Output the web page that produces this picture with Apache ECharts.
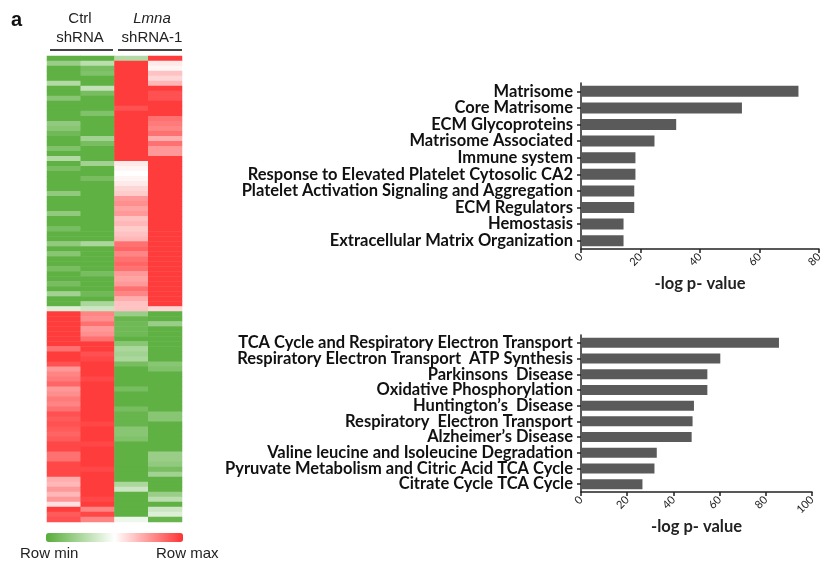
<!DOCTYPE html>
<html><head><meta charset="utf-8">
<script src="https://cdn.jsdelivr.net/npm/echarts@6/dist/echarts.min.js"></script>
<style>html,body{margin:0;padding:0;background:#fff}#c{width:825px;height:561px}</style>
</head><body><div id="c"></div>
<script>
// Heatmap columns (row-normalised values: -1 = row min (green), +1 = row max (red))
const heatCols = ['Ctrl shRNA 1','Ctrl shRNA 2','Lmna shRNA-1 1','Lmna shRNA-1 2'];
const ctrl1 = [
 -0.95,-0.6,-0.95,-0.95,-0.95,-0.45,-0.95,-0.95,-0.7,-0.95,
 -0.95,-0.95,-0.95,-0.65,-0.7,-0.85,-0.95,-0.95,-0.75,-0.95,
 -0.45,-0.95,-0.8,-0.95,-0.95,-0.95,-0.95,-0.65,-0.95,-0.95,
 -0.95,-0.65,-0.95,-0.95,-0.8,-0.95,-0.95,-0.65,-0.95,-0.7,
 -0.95,-0.95,-0.8,-0.95,-0.95,-0.8,-0.95,-0.55,-0.95,-0.95,
 -0.2,0.95,0.95,0.95,0.95,0.95,0.95,0.95,0.7,0.95,
 0.95,0.85,0.5,0.6,0.65,0.75,0.5,0.55,0.65,0.6,
 0.7,0.85,0.8,0.85,0.8,0.75,0.8,0.9,0.9,0.7,
 0.7,0.9,0.9,0.9,0.4,0.35,0.5,0.35,0.5,0.15,
 0.95,0.8,0.85
];
const ctrl2 = [
 -0.95,-0.4,-0.8,-0.75,-0.95,-0.95,-0.35,-0.8,-0.95,-0.95,
 -0.95,-0.75,-0.95,-0.95,-0.95,-0.95,-0.55,-0.8,-0.95,-0.95,
 -0.95,-0.55,-0.95,-0.95,-0.8,-0.95,-0.95,-0.95,-0.95,-0.95,
 -0.95,-0.95,-0.95,-0.95,-0.95,-0.95,-0.95,-0.5,-0.95,-0.95,
 -0.95,-0.95,-0.95,-0.8,-0.95,-0.95,-0.95,-0.85,-0.95,-0.5,
 -0.3,0.6,0.55,0.7,0.5,0.55,0.7,0.95,0.95,0.85,
 0.9,0.95,0.95,0.95,0.9,0.95,0.95,0.95,0.95,0.95,
 0.95,0.95,0.95,0.9,0.95,0.95,0.95,0.9,0.95,0.95,
 0.95,0.95,0.9,0.95,0.95,0.95,0.95,0.95,0.9,0.95,
 0.6,0.9,0.6
];
const lmna1 = [
 -0.45,0.95,0.95,0.95,0.95,0.95,0.95,0.95,0.95,0.95,
 0.85,0.95,0.95,0.95,0.95,0.95,0.95,0.95,0.95,0.95,
 0.95,0.1,0.05,0.0,0.05,0.1,0.2,0.25,0.5,0.55,
 0.45,0.5,0.3,0.35,0.25,0.3,0.35,0.7,0.75,0.6,
 0.7,0.75,0.7,0.5,0.45,0.5,0.7,0.6,0.4,0.3,
 0.3,-0.6,-0.9,-0.85,-0.85,-0.85,-0.95,-0.7,-0.5,-0.55,
 -0.5,-0.8,-0.95,-0.95,-0.95,-0.95,-0.8,-0.95,-0.95,-0.95,
 -0.8,-0.9,-0.9,-0.9,-0.7,-0.7,-0.75,-0.95,-0.95,-0.95,
 -0.95,-0.95,-0.95,-0.95,-0.95,-0.5,-0.3,-0.95,-0.95,-0.95,
 -0.95,-0.95,-0.1
];
const lmna2 = [
 0.95,0.1,0.05,0.3,0.2,0.35,0.95,0.85,0.85,0.95,
 0.95,0.95,0.7,0.65,0.6,0.7,0.4,0.7,0.5,0.5,
 0.95,0.95,0.95,0.95,0.95,0.95,0.95,0.95,0.95,0.95,
 0.95,0.95,0.95,0.95,0.95,0.95,0.95,0.95,0.95,0.95,
 0.95,0.95,0.95,0.95,0.95,0.95,0.95,0.95,0.95,0.95,
 0.2,-0.95,-0.95,-0.6,-0.95,-0.95,-0.95,-0.95,-0.95,-0.95,
 -0.95,-0.7,-0.75,-0.95,-0.95,-0.95,-0.95,-0.95,-0.95,-0.95,
 -0.95,-0.7,-0.7,-0.95,-0.95,-0.95,-0.95,-0.95,-0.95,-0.6,
 -0.6,-0.65,-0.8,-0.55,-0.95,-0.95,-0.95,-0.6,-0.4,-0.95,
 -0.3,-0.2,-0.9
];

// Enrichment bar charts
const topCats = ['Matrisome','Core Matrisome','ECM Glycoproteins','Matrisome Associated','Immune system',
 'Response to Elevated Platelet Cytosolic CA2','Platelet Activation Signaling and Aggregation','ECM Regulators',
 'Hemostasis','Extracellular Matrix Organization'];
const topVals = [73.1,54.1,32.0,24.7,18.3,18.3,17.9,17.9,14.3,14.3];
const botCats = ['TCA Cycle and Respiratory Electron Transport','Respiratory Electron Transport  ATP Synthesis',
 'Parkinsons  Disease','Oxidative Phosphorylation','Huntington\u2019s  Disease','Respiratory  Electron Transport',
 'Alzheimer\u2019s Disease','Valine leucine and Isoleucine Degradation','Pyruvate Metabolism and Citric Acid TCA Cycle',
 'Citrate Cycle TCA Cycle'];
const botVals = [85.7,60.3,54.7,54.7,48.9,48.3,47.9,32.8,31.8,26.6];
const topTicks = {min:0,max:80,interval:20};
const botTicks = {min:0,max:100,interval:20};

const cols = [ctrl1, ctrl2, lmna1, lmna2];
const nRows = ctrl1.length;
const rowNames = Array.from({length:nRows},(_,i)=>'g'+i);
const heatData = [];
cols.forEach((arr,ci)=>arr.forEach((v,ri)=>heatData.push([ci,ri,v])));

const GREEN='#56ad38', RED='#ff3232';
const labelFont = {fontFamily:'Lato', fontWeight:'bold', fontSize:16.5, color:'#111'};
const axisBlack = {lineStyle:{color:'#222',width:1.5}};

function barAxes(cats, ticks){
  return {
    x:{type:'value',min:ticks.min,max:ticks.max,interval:ticks.interval,
      axisLine:{show:true,...axisBlack},axisTick:{show:true,length:4,lineStyle:{color:'#222',width:1.5}},
      splitLine:{show:false},
      axisLabel:{rotate:45,fontSize:11,fontFamily:'Lato',color:'#222',margin:6},
      name:'-log p- value',nameLocation:'middle',nameGap:26,
      nameTextStyle:{fontFamily:'Lato',fontWeight:'bold',fontSize:16.5,color:'#222'}},
    y:{type:'category',data:cats,inverse:true,
      axisLine:{show:true,...axisBlack},axisTick:{show:true,alignWithLabel:true,length:4,lineStyle:{color:'#222',width:1.5}},
      axisLabel:{...labelFont,margin:8,interval:0}}
  };
}
const ta = barAxes(topCats, topTicks), ba = barAxes(botCats, botTicks);

const chart = echarts.init(document.getElementById('c'),null,{renderer:'canvas'});
chart.setOption({
  animation:false,
  grid:[
    {left:47,top:56,width:135,height:466},
    {left:581,right:6,top:83,height:166},
    {left:581,right:13,top:335,height:157}
  ],
  xAxis:[
    {type:'category',data:heatCols,gridIndex:0,show:false},
    {...ta.x,gridIndex:1},
    {...ba.x,gridIndex:2}
  ],
  yAxis:[
    {type:'category',data:rowNames,inverse:true,gridIndex:0,show:false},
    {...ta.y,gridIndex:1},
    {...ba.y,gridIndex:2}
  ],
  visualMap:{type:'continuous',min:-1,max:1,seriesIndex:0,orient:'horizontal',
    left:46,top:533,itemWidth:9,itemHeight:137,padding:0,calculable:false,
    showLabel:false,text:null,
    inRange:{color:[GREEN,'#ffffff',RED]}},
  series:[
    {type:'heatmap',xAxisIndex:0,yAxisIndex:0,data:heatData,itemStyle:{borderWidth:0},emphasis:{disabled:true}},
    {type:'bar',xAxisIndex:1,yAxisIndex:1,data:topVals,barWidth:11,itemStyle:{color:'#5a5a5a'}},
    {type:'bar',xAxisIndex:2,yAxisIndex:2,data:botVals,barWidth:10,itemStyle:{color:'#5a5a5a'}}
  ],
  graphic:[
    {type:'text',left:11,top:10,style:{text:'a',font:'bold 20px "Liberation Sans"',fill:'#111'}},
    {type:'text',x:80,y:19,style:{text:'Ctrl',font:'15px "Liberation Sans"',fill:'#222',align:'center',verticalAlign:'middle'}},
    {type:'text',x:80,y:38,style:{text:'shRNA',font:'15px "Liberation Sans"',fill:'#222',align:'center',verticalAlign:'middle'}},
    {type:'text',x:152,y:19,style:{text:'Lmna',font:'italic 15px "Liberation Sans"',fill:'#222',align:'center',verticalAlign:'middle'}},
    {type:'text',x:152,y:38,style:{text:'shRNA-1',font:'15px "Liberation Sans"',fill:'#222',align:'center',verticalAlign:'middle'}},
    {type:'line',shape:{x1:50,y1:50,x2:113,y2:50},style:{stroke:'#444',lineWidth:2}},
    {type:'line',shape:{x1:118,y1:50,x2:182,y2:50},style:{stroke:'#444',lineWidth:2}},
    {type:'text',x:20,y:554,style:{text:'Row min',font:'15px "Liberation Sans"',fill:'#222',verticalAlign:'middle'}},
    {type:'text',x:156,y:554,style:{text:'Row max',font:'15px "Liberation Sans"',fill:'#222',verticalAlign:'middle'}}
  ]
});
</script></body></html>
